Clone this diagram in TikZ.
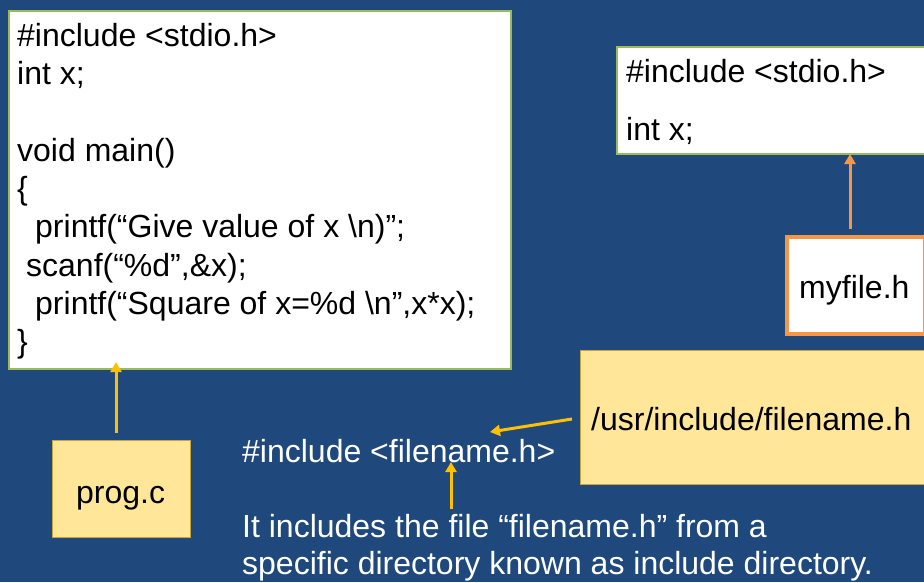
\documentclass[tikz,border=0pt]{standalone}
\usepackage{fontspec}
\setmainfont{Liberation Sans}
\usetikzlibrary{arrows.meta}
\definecolor{slatebg}{HTML}{1F497D}
\definecolor{boxgreen}{HTML}{9BBB59}
\definecolor{boxorange}{HTML}{F79646}
\definecolor{noteyellow}{HTML}{FFE699}
\definecolor{noteedge}{HTML}{C9A53A}
\definecolor{arrowgold}{HTML}{FFC000}
\tikzset{
  x=1pt, y=-1pt,
  codebox/.style={draw=boxgreen, line width=2pt, fill=white, anchor=north west, inner sep=0pt},
  filebox/.style={draw=boxorange, line width=3.5pt, fill=white, anchor=north west, inner sep=0pt},
  notebox/.style={draw=noteedge, line width=1.2pt, fill=noteyellow, anchor=north west, inner sep=0pt},
  codeline/.style={anchor=base west, inner sep=0pt, font=\fontsize{32}{38}\selectfont},
  whiteline/.style={codeline, text=white},
  goldarrow/.style={draw=arrowgold, line width=3pt, -{Triangle[width=11pt,length=10pt]}},
  orangearrow/.style={draw=boxorange, line width=3pt, -{Triangle[width=11pt,length=10pt]}},
}
\begin{document}
\begin{tikzpicture}
% background
\fill[slatebg] (0,0) rectangle (924,582);
\useasboundingbox (0,0) rectangle (924,582);

% program source
\node[codebox, minimum width=502pt, minimum height=358pt] (prog) at (8,10) {};
\node[codeline] (p1) at (17,46) {\#include <stdio.h>};
\node[codeline] (p2) at (17,84) {int x;};
\node[codeline] (p3) at (17,161) {void main()};
\node[codeline] (p4) at (17,199) {\{};
\node[codeline] (p5) at (35,237) {printf(“Give value of x \textbackslash n)”;};
\node[codeline] (p6) at (26,276) {scanf(“\%d”,\&x);};
\node[codeline] (p7) at (35,314) {printf(“Square of x=\%d \textbackslash n”,x*x);};
\node[codeline] (p8) at (17,352) {\}};

% header contents
\node[codebox, minimum width=320pt, minimum height=107pt] (hdr) at (616,46) {};
\node[codeline] (h1) at (626,82) {\#include <stdio.h>};
\node[codeline] (h2) at (626,140) {int x;};

% header file name
\node[filebox, minimum width=138pt, minimum height=97pt] (myf) at (785,235) {};
\node[codeline] (myft) at (799,298) {myfile.h};

% system include path
\node[notebox, minimum width=360pt, minimum height=134pt] (usr) at (580,350) {};
\node[codeline] (usrt) at (591,430) {/usr/include/filename.h};

% program file name
\node[notebox, minimum width=138pt, minimum height=97pt] (pc) at (52,440) {};
\node[codeline] (pct) at (76,503) {prog.c};

% include directive and explanation
\node[whiteline] (inc) at (242,462) {\#include <filename.h>};
\node[whiteline] (ex1) at (242,537) {It includes the file “filename.h” from a};
\node[whiteline] (ex2) at (242,574) {specific directory known as include directory.};

% connectors
\coordinate (pcTop) at (116,433);
\coordinate (progBot) at (116,362);
\draw[goldarrow] (pcTop) -- (progBot);

\coordinate (myfTop) at (850,229);
\coordinate (hdrBot) at (850,154);
\draw[orangearrow] (myfTop) -- (hdrBot);

\coordinate (usrLeft) at (572,419);
\coordinate (incRight) at (490,432);
\draw[goldarrow] (usrLeft) -- (incRight);

\coordinate (exTop) at (451,509);
\coordinate (incBot) at (451,462);
\draw[goldarrow] (exTop) -- (incBot);
\end{tikzpicture}
\end{document}
